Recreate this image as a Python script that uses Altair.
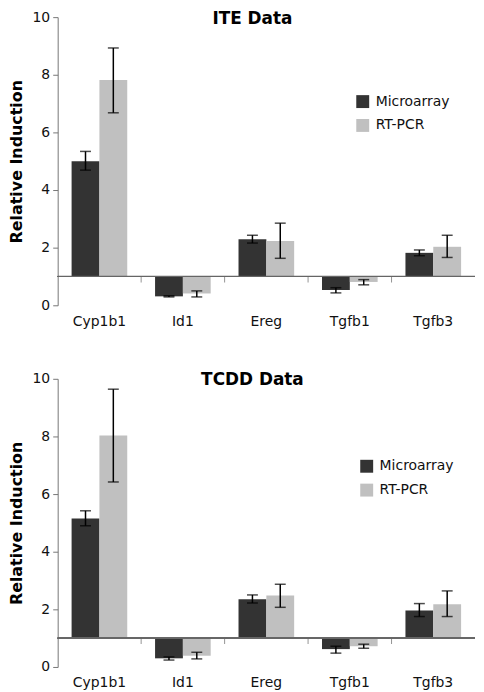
import altair as alt
import pandas as pd

genes = ["Cyp1b1", "Id1", "Ereg", "Tgfb1", "Tgfb3"]
series = ["Microarray", "RT-PCR"]

# ITE panel
ite_micro = [5.00, 0.31, 2.29, 0.53, 1.82]
ite_micro_lo = [4.69, 0.29, 2.16, 0.43, 1.72]
ite_micro_hi = [5.34, 0.33, 2.43, 0.61, 1.92]
ite_rt = [7.82, 0.41, 2.23, 0.81, 2.03]
ite_rt_lo = [6.68, 0.29, 1.63, 0.71, 1.66]
ite_rt_hi = [8.93, 0.50, 2.85, 0.89, 2.43]

# TCDD panel
tcdd_micro = [5.15, 0.30, 2.35, 0.62, 1.96]
tcdd_micro_lo = [4.90, 0.24, 2.22, 0.48, 1.75]
tcdd_micro_hi = [5.42, 0.35, 2.50, 0.72, 2.20]
tcdd_rt = [8.03, 0.39, 2.48, 0.72, 2.18]
tcdd_rt_lo = [6.42, 0.28, 2.07, 0.65, 1.75]
tcdd_rt_hi = [9.64, 0.51, 2.87, 0.79, 2.64]

FONT = "DejaVu Sans"
W, H = 420, 290


def make_df(micro, mlo, mhi, rt, rlo, rhi):
    rows = []
    for i, g in enumerate(genes):
        rows.append({"gene": g, "series": series[0], "value": micro[i], "lo": mlo[i], "hi": mhi[i]})
        rows.append({"gene": g, "series": series[1], "value": rt[i], "lo": rlo[i], "hi": rhi[i]})
    return pd.DataFrame(rows)


def panel(title, df, legend_x, legend_y, title_y):
    base = alt.Chart(df)
    x = alt.X("gene:N", sort=genes,
              scale=alt.Scale(domain=genes, paddingInner=0, paddingOuter=0),
              axis=alt.Axis(title=None, labelAngle=0, domain=False, ticks=False,
                            labelPadding=9, labelFontSize=14, labelFont=FONT,
                            labelColor="#111"))
    xo = alt.XOffset("series:N", sort=series,
                     scale=alt.Scale(domain=series, paddingInner=0, paddingOuter=0.5))
    y = alt.Y("value:Q", scale=alt.Scale(domain=[0, 10], nice=False),
              axis=alt.Axis(values=[0, 2, 4, 6, 8, 10], grid=False, title="Relative Induction",
                            titleFontSize=16, titleFontWeight="bold", titleFont=FONT,
                            titleColor="#000", titlePadding=8,
                            labelFontSize=14, labelFont=FONT, labelColor="#111",
                            labelPadding=3, tickSize=5, tickColor="#777",
                            domainColor="#777"))
    bars = base.mark_bar().encode(
        x=x, xOffset=xo, y=y, y2=alt.datum(1),
        color=alt.Color("series:N", sort=series,
                        scale=alt.Scale(domain=series, range=["#333333", "#c0c0c0"]),
                        legend=alt.Legend(title=None, orient="none", legendX=legend_x,
                                          legendY=legend_y, symbolType="square",
                                          symbolSize=169, symbolStrokeWidth=0,
                                          labelFontSize=14, labelFont=FONT,
                                          labelColor="#111", rowPadding=10,
                                          labelOffset=6, padding=0)),
    )
    err = base.mark_rule(color="black", strokeWidth=1.5).encode(
        x=alt.X("gene:N", sort=genes), xOffset=alt.XOffset("series:N", sort=series),
        y="lo:Q", y2="hi:Q")
    caps = base.transform_fold(["lo", "hi"], as_=["k", "v"]).mark_tick(
        color="black", size=11, thickness=1.5).encode(
        x=alt.X("gene:N", sort=genes), xOffset=alt.XOffset("series:N", sort=series),
        y="v:Q")
    baseline = base.mark_rule(color="#666", strokeWidth=1).encode(y=alt.datum(1))
    bdf = pd.DataFrame({"gene": genes[1:]})
    bticks = alt.Chart(bdf).mark_tick(orient="vertical", size=6, thickness=1,
                                      color="#666", yOffset=3).encode(
        x=alt.X("gene:N", sort=genes, bandPosition=0), y=alt.datum(1))
    tdf = pd.DataFrame({"t": [title]})
    ttl = alt.Chart(tdf).mark_text(fontSize=17, fontWeight="bold", font=FONT,
                                   color="#000", align="center", baseline="middle").encode(
        text="t:N", x=alt.value(196), y=alt.value(title_y))
    return alt.layer(bars, baseline, bticks, err, caps, ttl).properties(width=W, height=H)


top = panel("ITE Data", make_df(ite_micro, ite_micro_lo, ite_micro_hi,
                                ite_rt, ite_rt_lo, ite_rt_hi), 300, 78, 2)
bottom = panel("TCDD Data", make_df(tcdd_micro, tcdd_micro_lo, tcdd_micro_hi,
                                    tcdd_rt, tcdd_rt_lo, tcdd_rt_hi), 304, 81, 1)

chart = alt.vconcat(top, bottom, spacing=43).resolve_scale(color="independent").configure_view(
    stroke=None).properties(padding=0)

chart.save("out.html", embed_options={"renderer": "svg", "actions": False})
